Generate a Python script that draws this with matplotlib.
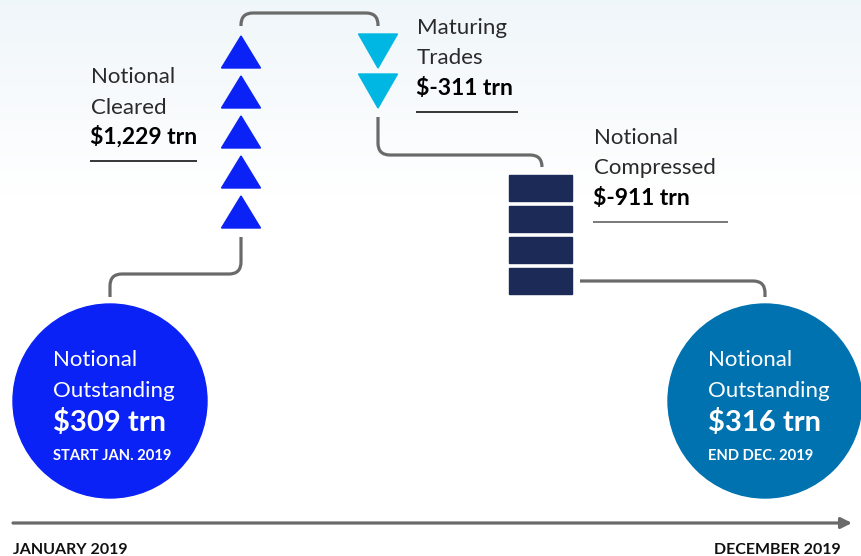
import numpy as np
import matplotlib.pyplot as plt
from matplotlib.patches import Polygon, Rectangle, Circle, PathPatch
from matplotlib.path import Path

# chart data
start_value = "$309 trn"
start_note = "START JAN. 2019"
end_value = "$316 trn"
end_note = "END DEC. 2019"
step_labels = [["Notional", "Cleared"], ["Maturing", "Trades"],
               ["Notional", "Compressed"]]
step_values = ["$1,229 trn", "$-311 trn", "$-911 trn"]
step_counts = [5, 2, 4]
axis_labels = ["JANUARY 2019", "DECEMBER 2019"]

FONT = ["Lato", "DejaVu Sans"]
GRAY = "#6a6a6a"
BLUE = "#0a22f5"
CYAN = "#00b7e3"
NAVY = "#1b2a56"
TEAL = "#0072b0"


def rounded_line(ax, pts, r=12, color=GRAY, lw=2.3):
    pts = [np.array(p, float) for p in pts]
    verts = [pts[0]]
    codes = [Path.MOVETO]
    for i in range(1, len(pts) - 1):
        a, p, b = pts[i - 1], pts[i], pts[i + 1]
        u1 = (p - a) / np.linalg.norm(p - a)
        u2 = (b - p) / np.linalg.norm(b - p)
        verts += [p - r * u1, p, p + r * u2]
        codes += [Path.LINETO, Path.CURVE3, Path.CURVE3]
    verts.append(pts[-1])
    codes.append(Path.LINETO)
    ax.add_patch(PathPatch(Path(verts, codes), fill=False, edgecolor=color,
                           lw=lw, capstyle="butt", zorder=2))


def step_text(ax, x, y, label, value, line_w, line_color="black"):
    # y is the baseline of the first label line
    for k, line in enumerate(label):
        ax.text(x, y + 30.5 * k, line, fontsize=16, family=FONT,
                weight="normal", color="#2a2a2a", va="baseline")
    ax.text(x - 1, y + 61, value, fontsize=16.5, family=FONT, weight="bold",
            color="black", va="baseline")
    ax.plot([x - 1, x - 1 + line_w], [y + 78, y + 78], color=line_color,
            lw=1.1, solid_capstyle="butt")


def circle(ax, cx, cy, color, value, note):
    ax.add_patch(Circle((cx, cy), 97, color=color, zorder=2))
    tx = cx - 57
    for k, line in enumerate(["Notional", "Outstanding"]):
        ax.text(tx, cy - 35 + 31 * k, line, fontsize=16, family=FONT,
                weight="normal", color="white", va="baseline", zorder=3)
    ax.text(tx, cy + 30, value, fontsize=21, family=FONT, weight="bold",
            color="white", va="baseline", zorder=3)
    ax.text(tx, cy + 59, note, fontsize=10.6, family=FONT, weight="bold",
            color="white", va="baseline", zorder=3)


fig = plt.figure(figsize=(8.61, 5.56), dpi=100)
ax = fig.add_axes([0, 0, 1, 1])
ax.set_xlim(0, 861)
ax.set_ylim(556, 0)
ax.axis("off")

# faint background wash at the top
t = np.clip(np.linspace(0, 1, 556) / 0.35, 0, 1)[:, None, None]
top = np.array([0.94, 0.965, 0.98])
grad = top * (1 - t) + np.ones(3) * t
ax.imshow(np.repeat(grad, 2, axis=1), extent=[0, 861, 556, 0],
          aspect="auto", zorder=0)

# start / end circles
circle(ax, 110, 401, BLUE, start_value, start_note)
circle(ax, 765, 401, TEAL, end_value, end_note)

# cleared: up triangles
x1, top1, pitch1, h1, w1 = 241, 36, 40, 32, 39
for i in range(step_counts[0]):
    y0 = top1 + i * pitch1
    ax.add_patch(Polygon([(x1 - w1 / 2, y0 + h1), (x1 + w1 / 2, y0 + h1),
                          (x1, y0)], color=BLUE, zorder=2))
bot1 = top1 + (step_counts[0] - 1) * pitch1 + h1

# maturing: down triangles
x2, top2, pitch2, h2, w2 = 378, 34, 40, 34, 39
for i in range(step_counts[1]):
    y0 = top2 + i * pitch2
    ax.add_patch(Polygon([(x2 - w2 / 2, y0), (x2 + w2 / 2, y0),
                          (x2, y0 + h2)], color=CYAN, zorder=2))
bot2 = top2 + (step_counts[1] - 1) * pitch2 + h2

# compressed: bars
x3, top3, pitch3, h3, w3 = 509, 175, 31, 26, 63
for i in range(step_counts[2]):
    ax.add_patch(Rectangle((x3, top3 + i * pitch3), w3, h3, color=NAVY,
                           zorder=2))
bar_mid = top3 + (step_counts[2] - 1) * pitch3 + h3 / 2

# connectors
rounded_line(ax, [(110, 297), (110, 274), (x1, 274), (x1, bot1 + 9)])
rounded_line(ax, [(x1, top1 - 10), (x1, 13), (x2, 13), (x2, top2 - 8)])
rounded_line(ax, [(x2, bot2 + 9), (x2, 155), (542, 155), (542, top3 - 8)])
rounded_line(ax, [(x3 + w3 + 8, bar_mid), (765, bar_mid), (765, 297)])

# step labels
step_text(ax, 91, 83, step_labels[0], step_values[0], 107)
step_text(ax, 417, 34, step_labels[1], step_values[1], 102)
step_text(ax, 594, 144, step_labels[2], step_values[2], 135,
          line_color="#555555")

# timeline
ax.annotate("", xy=(852, 523), xytext=(13, 523),
            arrowprops=dict(arrowstyle="-|>", color=GRAY, lw=2.3,
                            mutation_scale=16, shrinkA=0, shrinkB=0))
ax.text(13, 554, axis_labels[0], fontsize=11.5, family=FONT, weight="bold",
        color="#111111", va="baseline", ha="left")
ax.text(841, 554, axis_labels[1], fontsize=11.5, family=FONT, weight="bold",
        color="#111111", va="baseline", ha="right")

fig.savefig("out.png", dpi=100)
